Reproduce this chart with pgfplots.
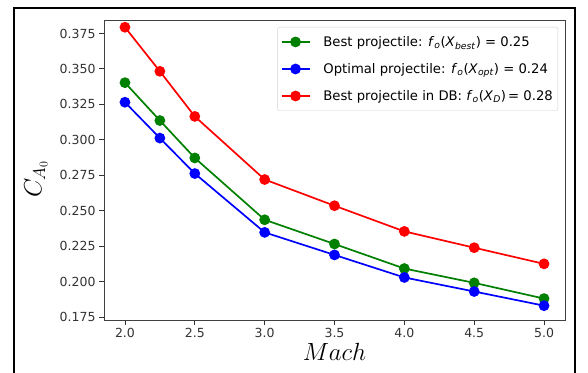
\documentclass[border=0pt]{standalone}
\usepackage{pgfplots}
\pgfplotsset{compat=1.18}
\usepackage{fontspec}
\setmainfont{DejaVu Sans}
\definecolor{mplgreen}{rgb}{0,0.5,0}
\newcommand{\ti}[1]{\textit{#1}}
\begin{document}
\begin{tikzpicture}
\useasboundingbox (0,0) rectangle (588pt,372pt);
\fill[white] (0,0) rectangle (588pt,372pt);
\draw[line width=2.3pt,black] (14pt,-10pt) -- (14pt,364pt) -- (575pt,364pt) -- (575pt,-10pt);
\begin{axis}[
  at={(104pt,52pt)}, anchor=south west,
  scale only axis, width=461pt, height=299pt,
  xmin=1.85, xmax=5.15, ymin=0.1729, ymax=0.3838,
  xtick={2.0,2.5,3.0,3.5,4.0,4.5,5.0},
  ytick={0.175,0.200,0.225,0.250,0.275,0.300,0.325,0.350,0.375},
  xticklabel style={/pgf/number format/.cd,fixed,fixed zerofill,precision=1},
  yticklabel style={/pgf/number format/.cd,fixed,fixed zerofill,precision=3},
  /pgf/number format/assume math mode=true,
  ticklabel style={font=\fontsize{12.5}{14}\selectfont, text=black!80},
  tick align=outside, tick pos=left, major tick length=5pt,
  tick style={black!80, line width=0.9pt},
  axis line style={black!75, line width=1pt},
  xlabel={$Mach$}, ylabel={$C_{A_0}$},
  xlabel style={font=\fontsize{24}{24}\selectfont, at={(axis description cs:0.5,0)}, anchor=center, yshift=-32pt},
  ylabel style={font=\fontsize{24}{24}\selectfont, at={(axis description cs:0,0.47)}, anchor=center, yshift=68pt},
  every axis plot/.append style={line width=1.7pt, mark=*, mark size=4.5pt},
  legend style={at={(0.985,0.98)}, anchor=north east, draw=black!18, rounded corners=2pt,
    font=\fontsize{13.2}{15}\selectfont, row sep=11.5pt, column sep=11pt, inner xsep=3pt, inner ysep=7pt},
  legend cell align=left,
  legend image code/.code={\draw[mark repeat=2,mark phase=2,#1] plot coordinates {(0pt,0pt) (14pt,0pt) (28pt,0pt)};},
]
\addplot[color=mplgreen, mark options={fill=mplgreen}] coordinates {
(2.0,0.3403) (2.25,0.3136) (2.5,0.2872) (3.0,0.2436) (3.5,0.2265) (4.0,0.2092) (4.5,0.1991) (5.0,0.1880)};
\addlegendentry{Best projectile: \ti{f}\textsubscript{\ti{o}}(\ti{X}\textsubscript{\ti{best}}) = 0.25}
\addplot[color=blue, mark options={fill=blue}] coordinates {
(2.0,0.3265) (2.25,0.3012) (2.5,0.2762) (3.0,0.2347) (3.5,0.2188) (4.0,0.2029) (4.5,0.1930) (5.0,0.1830)};
\addlegendentry{Optimal projectile: \ti{f}\textsubscript{\ti{o}}(\ti{X}\textsubscript{\ti{opt}}) = 0.24}
\addplot[color=red, mark options={fill=red}] coordinates {
(2.0,0.3794) (2.25,0.3483) (2.5,0.3165) (3.0,0.2720) (3.5,0.2535) (4.0,0.2354) (4.5,0.2239) (5.0,0.2125)};
\addlegendentry{Best projectile in DB: \ti{f}\textsubscript{\ti{o}}(\ti{X}\textsubscript{\ti{D}})\,= 0.28}
\end{axis}
\end{tikzpicture}
\end{document}
